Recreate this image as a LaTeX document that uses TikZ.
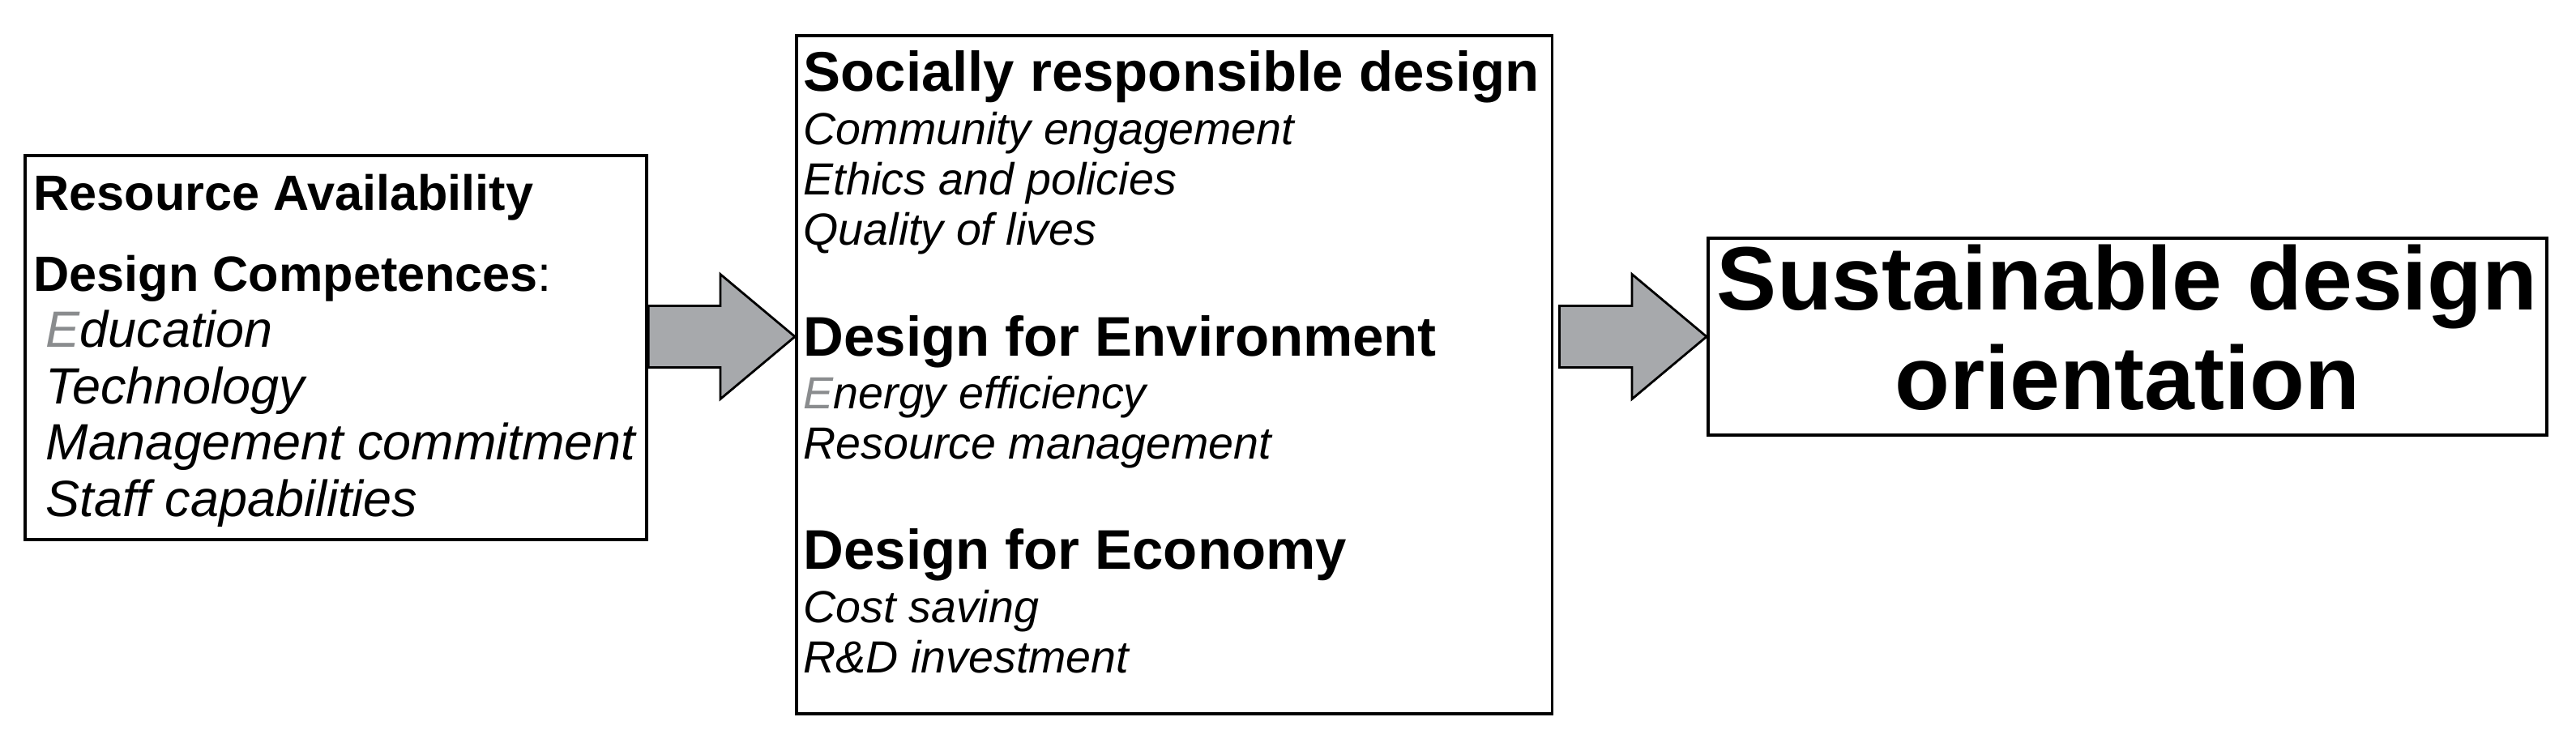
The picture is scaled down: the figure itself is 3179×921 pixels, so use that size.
\documentclass[tikz,border=0pt]{standalone}
\usepackage{fontspec}
\setmainfont{Liberation Sans}
\usetikzlibrary{calc}
\definecolor{arrowgray}{HTML}{A7A9AC}
\definecolor{fadedE}{HTML}{8A8C8E}

\tikzset{
  box/.style={draw=black, line width=1.1pt, anchor=north west, inner sep=0pt},
  txt/.style={anchor=base west, inner sep=0pt},
  lefthead/.style={txt, font=\fontsize{17.4pt}{20pt}\selectfont\bfseries},
  leftitem/.style={txt, font=\fontsize{17.9pt}{20pt}\selectfont\itshape},
  midhead/.style={txt, font=\fontsize{19.6pt}{22pt}\selectfont\bfseries},
  miditem/.style={txt, font=\fontsize{15.8pt}{18pt}\selectfont\itshape},
  goaltxt/.style={anchor=base, inner sep=0pt, font=\fontsize{31.6pt}{35pt}\selectfont\bfseries},
  fatarrow/.style={draw=black, line width=0.8pt, fill=arrowgray, line join=miter},
}

% block arrow from #1 (tail) to #2 (tip)
\newcommand{\blockarrow}[2]{%
  \draw[fatarrow] ($(#1)+(0,-38)$) -- ($(#2)+(-92,-38)$) -- ($(#2)+(-92,-77)$)
    -- (#2) -- ($(#2)+(-92,77)$) -- ($(#2)+(-92,38)$) -- ($(#1)+(0,38)$) -- cycle;}

\begin{document}
\begin{tikzpicture}[x=0.01cm, y=-0.01cm]
    \useasboundingbox (0,0) rectangle (3179,921);

    % Boxes
    \node[box, minimum width=7.67cm, minimum height=4.74cm] (res) at (29,190) {};
    \node[box, minimum width=9.32cm, minimum height=8.37cm] (mid) at (981,42) {};
    \node[box, minimum width=10.34cm, minimum height=2.43cm] (goal) at (2106,292) {};

    % Resources and competences
    \node[lefthead] (avail) at (41,259) {Resource Availability};
    \node[lefthead] (comp) at (41,359) {Design Competences\textmd{:}};
    \foreach \t [count=\i] in {{\textcolor{fadedE}{E}ducation},Technology,Management commitment,Staff capabilities}
        \node[leftitem] (comp\i) at (56,359+69.6*\i) {\t};

    % Design practices
    \node[midhead] (soc) at (991,112) {Socially responsible design};
    \foreach \t [count=\i] in {Community engagement,Ethics and policies,Quality of lives}
        \node[miditem] (soc\i) at (991,116+62*\i) {\t};
    \node[midhead] (env) at (991,439) {Design for Environment};
    \foreach \t [count=\i] in {{\textcolor{fadedE}{E}nergy efficiency},Resource management}
        \node[miditem] (env\i) at (991,442+62*\i) {\t};
    \node[midhead] (eco) at (991,702) {Design for Economy};
    \foreach \t [count=\i] in {Cost saving,R\&D investment}
        \node[miditem] (eco\i) at (991,706+62*\i) {\t};

    % Outcome
    \node[goaltxt] (goal1) at (goal.center |- 0,382) {Sustainable design};
    \node[goaltxt] (goal2) at (goal.center |- 0,505) {orientation};

    % Arrows
    \coordinate (a1) at (res.east |- goal.west);
    \coordinate (b1) at (mid.west |- goal.west);
    \coordinate (a2) at ($(mid.east |- goal.west)+(7,0)$);
    \blockarrow{a1}{b1}
    \blockarrow{a2}{goal.west}
\end{tikzpicture}
\end{document}
